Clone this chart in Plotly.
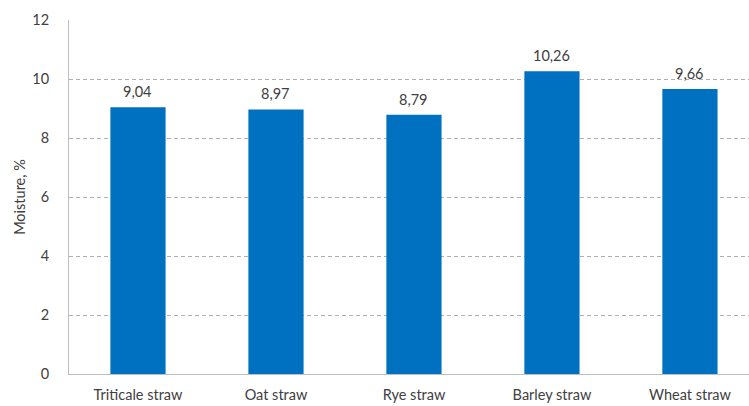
import plotly.graph_objects as go

categories = ["Triticale straw", "Oat straw", "Rye straw", "Barley straw", "Wheat straw"]
moisture = [9.04, 8.97, 8.79, 10.26, 9.66]
y_ticks = [0, 2, 4, 6, 8, 10, 12]

font_family = "Lato, 'Open Sans', sans-serif"
text_color = "#404040"
font_size = 14.5

fig = go.Figure(
    go.Bar(
        x=categories,
        y=moisture,
        marker=dict(color="#0070C0", line=dict(width=0)),
        width=0.4,
        cliponaxis=False,
    )
)

# value labels above each bar, with a decimal comma
for cat, val in zip(categories, moisture):
    fig.add_annotation(
        x=cat,
        y=val,
        text=f"{val:.2f}".replace(".", ","),
        showarrow=False,
        yanchor="bottom",
        yshift=5,
        font=dict(size=font_size, color=text_color, family=font_family),
    )

fig.update_layout(
    width=749,
    height=406,
    margin=dict(l=69, r=0, t=20, b=32),
    plot_bgcolor="white",
    paper_bgcolor="white",
    showlegend=False,
    font=dict(family=font_family, size=font_size, color=text_color),
)

fig.update_xaxes(
    range=[-0.5, 4.428],
    showline=True,
    linecolor="#BFBFBF",
    linewidth=1,
    ticks="",
    showgrid=False,
    ticklabelstandoff=8,
    tickfont=dict(size=font_size, color=text_color),
)

fig.update_yaxes(
    range=[0, 12],
    tickvals=y_ticks,
    showline=True,
    linecolor="#BFBFBF",
    linewidth=1,
    showgrid=True,
    gridcolor="#B0B0B0",
    griddash="4px,3px",
    gridwidth=1,
    zeroline=False,
    ticks="",
    ticklabelstandoff=16,
    tickfont=dict(size=font_size, color=text_color),
    title=dict(text="Moisture, %", font=dict(size=font_size, color=text_color), standoff=3),
)

fig.write_html("out.html")
